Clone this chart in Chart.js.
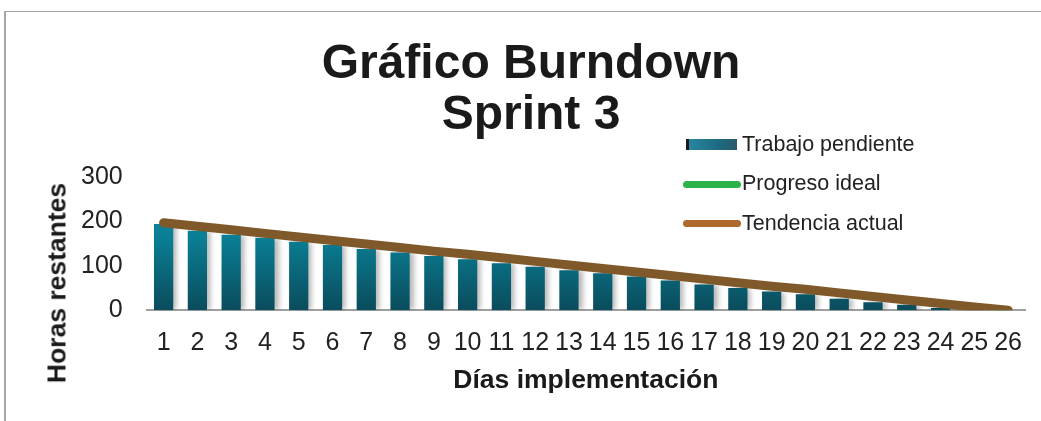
<!DOCTYPE html>
<html>
<head>
<meta charset="utf-8">
<script src="https://cdn.jsdelivr.net/npm/chart.js@4.4.1/dist/chart.umd.min.js"></script>
<style>
  body { margin: 0; background: #fff; font-family: "Liberation Sans", Arial, sans-serif; }
  #wrap { position: relative; width: 1041px; height: 421px; overflow: hidden; }
  #frame { position: absolute; left: 4px; top: 11px; width: 1100px; height: 500px; border-top: 1px solid #a6a6a6; border-left: 2px solid #a6a6a6; }
  #title { position: absolute; left: 0; width: 1062px; top: 36px; text-align: center; font-weight: bold; font-size: 48px; line-height: 51px; color: #1a1a1a; }
  #ytitle { position: absolute; left: 57px; top: 283px; transform: translate(-50%, -50%) rotate(-90deg); white-space: nowrap; font-weight: bold; font-size: 26.5px; color: #1a1a1a; }
  #legend { position: absolute; left: 683px; top: 131px; }
  .item { display: flex; align-items: center; font-size: 21.5px; color: #222; height: 26px; margin-bottom: 13.5px; }
  .mark { width: 58px; margin-right: 1px; position: relative; height: 26px; }
  canvas { position: absolute; left: 0; top: 0; }
</style>
</head>
<body>
<div id="wrap">
  <div id="frame"></div>
  <canvas id="chart" width="1041" height="421"></canvas>
  <div id="title">Gráfico Burndown<br>Sprint 3</div>
  <div id="ytitle">Horas restantes</div>
  <div id="legend"></div>
</div>
<script>
// Datos del sprint
const dias = ['1','2','3','4','5','6','7','8','9','10','11','12','13','14','15','16','17','18','19','20','21','22','23','24','25','26'];
const trabajoPendiente = [194, 179, 170, 163, 154, 147, 138, 130, 122, 115, 106, 98, 90, 83, 76, 67, 58, 50, 42, 36, 26, 18, 12, 5, 2, 0];
const progresoIdeal = [200, 192, 184, 176, 168, 160, 152, 144, 136, 128, 120, 112, 104, 96, 88, 80, 72, 64, 56, 48, 40, 32, 24, 16, 8, 0];
const tendenciaActual = [197, 189, 181, 173, 165, 157, 149, 141, 133, 126, 118, 110, 102, 94, 86, 78, 70, 62, 54, 47, 39, 31, 23, 15, 7, 0];
const yTicks = [0, 100, 200, 300];

const labelFont = { family: '"Liberation Sans", Arial, sans-serif', size: 25 };

// Gradient for the bars
function barGradient(context) {
    const area = context.chart.chartArea;
    if (!area) return '#0b7d92';
    const g = context.chart.ctx.createLinearGradient(0, area.top, 0, area.bottom);
    g.addColorStop(0, '#0b8aa1');
    g.addColorStop(0.45, '#0a7f95');
    g.addColorStop(1, '#0a4c5c');
    return g;
}

// Soft shadow to the right of the bars
const barShadow = {
    id: 'barShadow',
    beforeDatasetDraw(chart, args) {
        if (args.index !== 0) return;
        const ctx = chart.ctx;
        ctx.save();
        ctx.shadowColor = 'rgba(0,0,0,0.28)';
        ctx.shadowBlur = 5;
        ctx.shadowOffsetX = 4;
        ctx.shadowOffsetY = 0;
    },
    afterDatasetDraw(chart, args) {
        if (args.index !== 0) return;
        chart.ctx.restore();
    }
};

const chart = new Chart(document.getElementById('chart'), {
    type: 'bar',
    data: {
        labels: dias,
        datasets: [
            {
                label: 'Trabajo pendiente',
                data: trabajoPendiente,
                backgroundColor: barGradient,
                categoryPercentage: 1,
                barPercentage: 0.57,
                order: 3
            },
            {
                type: 'line',
                label: 'Progreso ideal',
                data: progresoIdeal,
                borderColor: '#2eb34c',
                borderWidth: 3,
                pointRadius: 0,
                tension: 0,
                order: 2
            },
            {
                type: 'line',
                label: 'Tendencia actual',
                data: tendenciaActual,
                borderColor: '#80592a',
                borderWidth: 9,
                borderCapStyle: 'round',
                borderJoinStyle: 'round',
                pointRadius: 0,
                tension: 0,
                order: 1
            }
        ]
    },
    options: {
        responsive: false,
        animation: false,
        layout: { padding: { top: 177, left: 57, right: 16, bottom: 24 } },
        plugins: {
            legend: { display: false },
            tooltip: { enabled: false }
        },
        scales: {
            x: {
                grid: { display: false, drawTicks: false },
                border: { display: true, color: '#a0a0a0', width: 2 },
                ticks: { color: '#222', font: labelFont, padding: 18, maxRotation: 0, autoSkip: false },
                title: {
                    display: true,
                    text: 'Días implementación',
                    color: '#1a1a1a',
                    font: { family: labelFont.family, size: 26.5, weight: 'bold' },
                    padding: { top: -11, bottom: 0 }
                }
            },
            y: {
                min: 0,
                max: 300,
                grid: { display: false, drawTicks: false },
                border: { display: false },
                afterBuildTicks: axis => { axis.ticks = yTicks.map(v => ({ value: v })); },
                ticks: { color: '#222', font: labelFont, padding: 24 }
            }
        }
    },
    plugins: [barShadow]
});

// Legend built from the datasets
const legend = document.getElementById('legend');
chart.data.datasets.forEach((ds, i) => {
    const item = document.createElement('div');
    item.className = 'item';
    const mark = document.createElement('div');
    mark.className = 'mark';
    if (i === 0) {
        mark.innerHTML = '<div style="position:absolute;left:3px;top:8px;width:3px;height:11px;background:#1a1a1a"></div>' +
            '<div style="position:absolute;left:6px;top:8px;width:48px;height:11px;background:linear-gradient(to right,#2a86a0,#1d6a80 60%,#2a5a6a)"></div>';
    } else {
        const col = i === 1 ? '#2eb34c' : '#b0692d';
        mark.innerHTML = '<div style="position:absolute;left:0;top:10px;width:58px;height:7px;border-radius:4px;background:' + col + '"></div>';
    }
    const txt = document.createElement('span');
    txt.textContent = ds.label;
    item.appendChild(mark);
    item.appendChild(txt);
    legend.appendChild(item);
});
</script>
</body>
</html>
